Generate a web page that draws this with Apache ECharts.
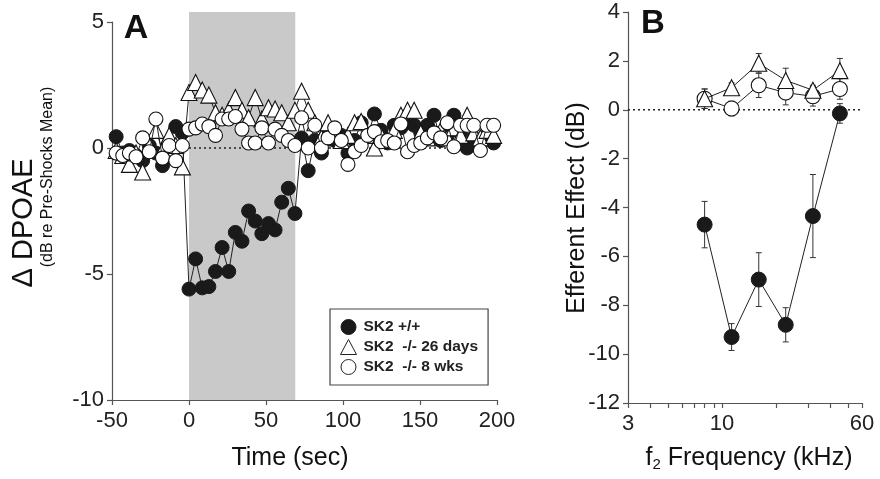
<!DOCTYPE html>
<html><head><meta charset="utf-8">
<script src="https://cdn.jsdelivr.net/npm/echarts@6/dist/echarts.min.js"></script>
<style>html,body{margin:0;padding:0;background:#fff}#c{width:880px;height:479px}</style>
</head><body><div id="c"></div>
<script>
// ---------- Panel A data ----------
const timeA = [-47.3, -43.0, -38.7, -34.4, -30.1, -25.8, -21.5, -17.2, -12.9, -8.6, -4.3,
  0, 4.3, 8.6, 12.9, 17.2, 21.5, 25.8, 30.1, 34.4, 38.7, 43.0, 47.3, 51.6, 55.9, 60.2, 64.5, 68.8,
  73.1, 77.4, 81.7, 86.0, 90.3, 94.6, 98.9, 103.2, 107.5, 111.8, 116.1, 120.4, 124.7, 129.0, 133.3,
  137.6, 141.9, 146.2, 150.5, 154.8, 159.1, 163.4, 167.7, 172.0, 176.3, 180.6, 184.9, 189.2, 193.5, 197.8];
const wtA = [0.45, -0.2, -0.1, -0.3, -0.5, 0.1, -0.2, -0.7, 0.2, 0.85, 0.6,
  -5.6, -4.4, -5.55, -5.5, -4.9, -3.95, -4.9, -3.35, -3.7, -2.5, -2.9, -3.4, -3.0, -3.25, -2.15, -1.6, -2.6,
  0.4, -0.9, 0.3, -0.2, 0.6, 0.3, 0.5, -0.2, 0.3, 1.0, 0.5, 1.35, 0.7, 0.2, 0.9,
  0.8, 1.0, 0.9, 0.6, 0.9, 1.3, 0.3, 0.5, 1.3, 0.6, 0.0, 0.4, 0.2, 0.5, 0.2];
const ko26A = [-0.1, -0.3, -0.65, -0.2, -0.95, 0.1, 0.7, -0.1, 0.5, 0.1, -0.75,
  2.2, 2.6, 2.3, 2.1, 1.4, 1.3, 1.5, 2.0, 1.5, 1.2, 2.0, 1.15, 1.6, 1.55, 1.4, 1.0, 1.5,
  2.25, 1.5, 1.0, 0.4, 1.0, 0.6, 0.3, 0.5, 1.0, 1.05, 0.5, 0.0, 0.5, 0.3, 0.7,
  1.3, 1.5, 1.5, 0.6, 0.4, 0.6, 0.7, 0.4, 0.8, 0.5, 1.3, 0.6, 0.4, 0.7, 0.5];
const ko8A = [-0.2, -0.3, -0.2, -0.35, 0.4, -0.15, 1.15, -0.4, 0.1, -0.5, 0.1,
  0.75, 0.8, 0.95, 0.85, 0.5, 1.15, 1.15, 1.25, 0.75, 0.2, 0.2, 0.8, 0.2, 0.75, 0.5, 0.3, 0.1,
  1.2, 0.0, 0.9, 0.0, 0.4, 0.8, 0.3, -0.65, -0.15, 0.1, 0.5, 0.65, 0.25, 0.3, 0.2,
  0.95, -0.15, 0.1, 0.2, 0.4, 0.6, 0.4, 1.0, 0.05, 0.9, 0.9, 0.9, -0.1, 0.9, 0.9];
const shockSpan = [0, 69];        // seconds
const shockYSpan = [5.4, -10];    // dB extent of the shaded band
const refLineA = [0, 200];        // dotted 0-dB line extent (sec)

// ---------- Panel B data ----------
const freqB = [8, 11.3, 16, 22.6, 32, 45.2];
const wtB = [-4.7, -9.3, -6.95, -8.8, -4.35, -0.15];
const wtErrB = [0.95, 0.55, 1.1, 0.7, 1.7, 0.4];
const ko26B = [0.45, 0.9, 1.9, 1.2, 0.8, 1.6];
const ko26ErrB = [0.4, 0.2, 0.4, 0.5, 0.2, 0.5];
const ko8B = [0.45, 0.05, 1.0, 0.7, 0.55, 0.85];
const ko8ErrB = [0.4, 0.3, 0.5, 0.5, 0.4, 0.42];
const refLineB = [3, 60];
const freqTicks = [3, 4, 5, 6, 7, 8, 9, 10, 20, 30, 40, 50, 60];
const freqLabels = [3, 10, 60];

const names = ['SK2 +/+', 'SK2  -/- 26 days', 'SK2  -/- 8 wks'];

const FONT = '"Liberation Sans", Arial, Helvetica, sans-serif';
const INK = '#1a1a1a';
const chart = echarts.init(document.getElementById('c'));

function axisBase(margin) {
  return {
    axisLine: {show: true, onZero: false, lineStyle: {color: '#555', width: 1.2}},
    axisTick: {show: true, inside: false, length: 5, lineStyle: {color: '#555', width: 1.2}},
    axisLabel: {color: '#222', fontSize: 22, fontFamily: FONT, margin},
    splitLine: {show: false}
  };
}
const pairs = (xs, ys) => xs.map((x, i) => [x, ys[i]]);
const triples = (xs, ys, es) => xs.map((x, i) => [x, ys[i], es[i]]);

function markerStyle(kind) {
  if (kind === 'filled') return {color: INK, borderColor: INK, borderWidth: 1};
  return {color: '#fff', borderColor: '#111', borderWidth: 1.1};
}
function lineSeries(name, data, xi, symbol, kind, size, z) {
  return {
    type: 'line', name, data, xAxisIndex: xi, yAxisIndex: xi,
    symbol, symbolSize: size, showAllSymbol: true, clip: false,
    lineStyle: {color: '#222', width: 1},
    itemStyle: markerStyle(kind), z, animation: false,
    emphasis: {disabled: true}
  };
}
function errSeries(data, z) {
  return {
    type: 'custom', xAxisIndex: 1, yAxisIndex: 1, data, z, silent: true, clip: false,
    renderItem: (p, api) => {
      const x = api.value(0), v = api.value(1), e = api.value(2);
      const t = api.coord([x, v + e]), b = api.coord([x, v - e]);
      const w = 3, st = {stroke: '#333', lineWidth: 1};
      return {type: 'group', children: [
        {type: 'line', shape: {x1: t[0], y1: t[1], x2: b[0], y2: b[1]}, style: st},
        {type: 'line', shape: {x1: t[0] - w, y1: t[1], x2: t[0] + w, y2: t[1]}, style: st},
        {type: 'line', shape: {x1: b[0] - w, y1: b[1], x2: b[0] + w, y2: b[1]}, style: st}
      ]};
    }
  };
}
function refLine(xi, xs) {
  return {type: 'line', xAxisIndex: xi, yAxisIndex: xi, data: [[xs[0], 0], [xs[1], 0]],
    symbol: 'none', silent: true, z: 1, animation: false,
    lineStyle: {color: '#222', width: 1.6, type: [2, 3]}};
}

const option = {
  animation: false,
  backgroundColor: '#fff',
  grid: [
    {left: 112, right: 383, top: 22, bottom: 79},
    {left: 628, right: 18, top: 12, bottom: 76}
  ],
  xAxis: [
    Object.assign(axisBase(10), {type: 'value', gridIndex: 0, min: -50, max: 200, interval: 50}),
    Object.assign(axisBase(10), {type: 'log', logBase: 10, gridIndex: 1, min: 3, max: 60,
      axisTick: {show: true, length: 5, customValues: freqTicks, lineStyle: {color: '#555', width: 1.2}},
      axisLabel: {color: '#222', fontSize: 22, fontFamily: FONT, margin: 10, customValues: freqLabels}})
  ],
  yAxis: [
    Object.assign(axisBase(8), {type: 'value', gridIndex: 0, min: -10, max: 5, interval: 5}),
    Object.assign(axisBase(8), {type: 'value', gridIndex: 1, min: -12, max: 4, interval: 2})
  ],
  legend: {
    left: 330, top: 309, orient: 'vertical',
    padding: [10, 10, 10, 10], itemGap: 4, itemWidth: 16, itemHeight: 15,
    borderColor: '#444', borderWidth: 1.2, backgroundColor: '#fff',
    textStyle: {fontFamily: FONT, fontSize: 15.5, fontWeight: 'bold', color: '#222', padding: [0, 0, 0, 2]},
    selectedMode: false,
    data: [
      {name: names[0], icon: 'circle', itemStyle: {color: INK, borderColor: INK, borderWidth: 1}},
      {name: names[1], icon: 'triangle', itemStyle: {color: '#fff', borderColor: '#222', borderWidth: 1}},
      {name: names[2], icon: 'circle', itemStyle: {color: '#fff', borderColor: '#222', borderWidth: 1}}
    ]
  },
  series: [
    {
      type: 'custom', xAxisIndex: 0, yAxisIndex: 0, clip: false, silent: true, z: 0,
      data: [[shockSpan[0], shockSpan[1], shockYSpan[0], shockYSpan[1]]],
      encode: {x: [0, 1], y: [2, 3]},
      renderItem: (p, api) => {
        const a = api.coord([api.value(0), api.value(2)]);
        const b = api.coord([api.value(1), api.value(3)]);
        return {type: 'rect', shape: {x: a[0], y: a[1], width: b[0] - a[0], height: b[1] - a[1]},
          style: {fill: '#c9c9c9'}};
      }
    },
    refLine(0, refLineA),
    lineSeries(names[0], pairs(timeA, wtA), 0, 'circle', 'filled', 14, 3),
    lineSeries(names[1], pairs(timeA, ko26A), 0, 'triangle', 'open', 16, 4),
    lineSeries(names[2], pairs(timeA, ko8A), 0, 'circle', 'open', 14, 5),
    refLine(1, refLineB),
    errSeries(triples(freqB, wtB, wtErrB), 2),
    errSeries(triples(freqB, ko26B, ko26ErrB), 2),
    errSeries(triples(freqB, ko8B, ko8ErrB), 2),
    lineSeries(names[0], pairs(freqB, wtB), 1, 'circle', 'filled', 15, 3),
    lineSeries(names[2], pairs(freqB, ko8B), 1, 'circle', 'open', 15, 4),
    lineSeries(names[1], pairs(freqB, ko26B), 1, 'triangle', 'open', 16, 5)
  ],
  graphic: [
    {type: 'text', x: 136, y: 29, style: {text: 'A', font: 'bold 34px ' + FONT, fill: '#111', align: 'center', verticalAlign: 'middle'}},
    {type: 'text', x: 653, y: 24, style: {text: 'B', font: 'bold 33px ' + FONT, fill: '#111', align: 'center', verticalAlign: 'middle'}},
    {type: 'text', x: 242, y: 27, style: {text: 'Shocks', font: 'bold 13px ' + FONT, fill: '#333', align: 'center', verticalAlign: 'middle'}},
    {type: 'text', x: 24, y: 223, rotation: Math.PI / 2, style: {text: '\u0394 DPOAE', font: '29px ' + FONT, fill: '#111', align: 'center', verticalAlign: 'middle'}},
    {type: 'text', x: 48, y: 177, rotation: Math.PI / 2, style: {text: '(dB re Pre-Shocks Mean)', font: '16px ' + FONT, fill: '#111', align: 'center', verticalAlign: 'middle'}},
    {type: 'text', x: 290, y: 458, style: {text: 'Time (sec)', font: '25px ' + FONT, fill: '#111', align: 'center', verticalAlign: 'middle'}},
    {type: 'text', x: 577, y: 208, rotation: Math.PI / 2, style: {text: 'Efferent Effect (dB)', font: '25px ' + FONT, fill: '#111', align: 'center', verticalAlign: 'middle'}},
    {type: 'text', x: 749, y: 458, style: {
      text: '{a|f}{s|2}{a| Frequency (kHz)}', align: 'center', verticalAlign: 'middle',
      rich: {a: {font: '25px ' + FONT, fill: '#111'}, s: {font: '15px ' + FONT, fill: '#111', padding: [14, 0, 0, 0]}}
    }}
  ]
};
chart.setOption(option);
</script>
</body></html>
